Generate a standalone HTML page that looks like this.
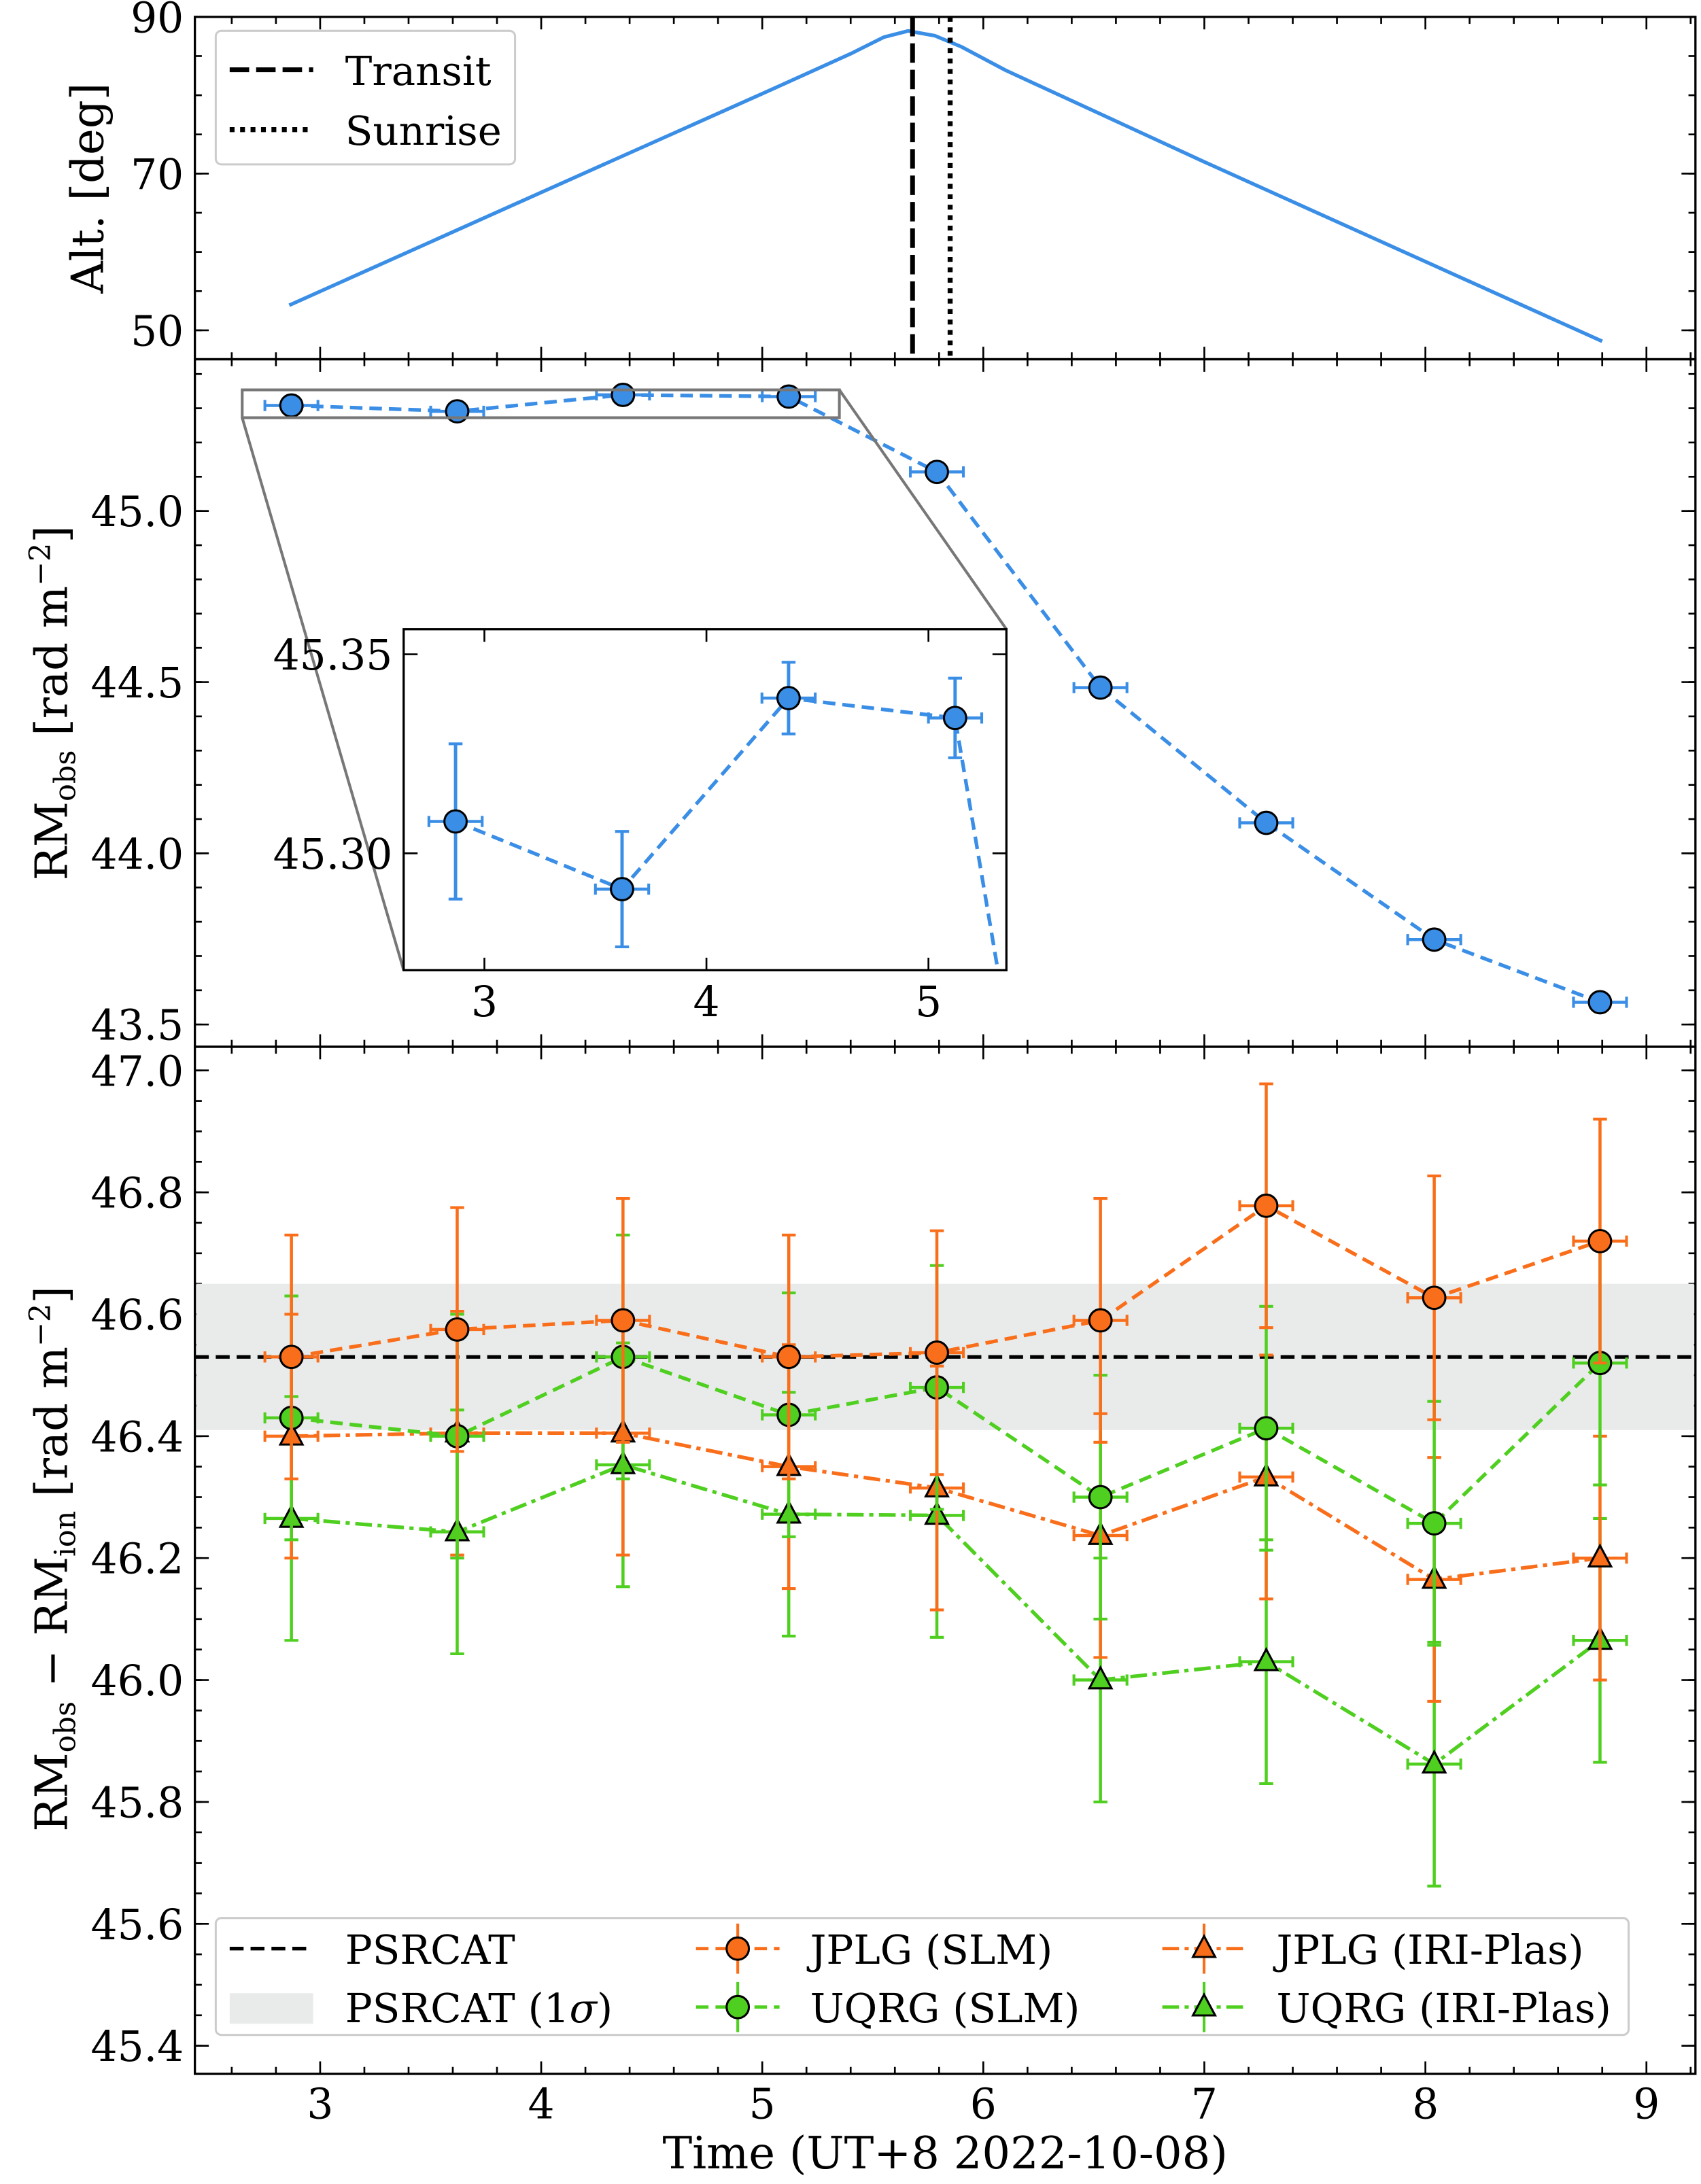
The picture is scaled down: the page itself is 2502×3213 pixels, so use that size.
<!DOCTYPE html>
<html><head><meta charset="utf-8">
<style>
html,body{margin:0;padding:0;background:#fff;width:2502px;height:3213px;overflow:hidden}
svg{display:block}
text{font-family:"DejaVu Serif","Liberation Serif",serif;fill:#000}
</style></head>
<body>
<svg id="fig" width="2502" height="3213" viewBox="0 0 1222 1569" xmlns="http://www.w3.org/2000/svg"></svg>
<script>
// ---- data ----
const altTimes=[2.86,4.0,5.0,5.4,5.55,5.66,5.78,5.9,6.1,7.0,8.8];
const altValues=[53.2,67.6,80.2,85.3,87.4,88.2,87.6,86.2,83.2,71.5,48.6];
const transitTime=5.68, sunriseTime=5.85;
const obsTimes=[2.87,3.62,4.37,5.12,5.79,6.53,7.28,8.04,8.79];
const rmObs=[45.308,45.291,45.339,45.334,45.114,44.484,44.089,43.748,43.565];
const insetErr=[0.0195,0.0145,0.009,0.01,0.01,0.01,0.01,0.01,0.01];
const jplgSLM=[46.53,46.575,46.59,46.53,46.537,46.59,46.778,46.627,46.72];
const uqrgSLM=[46.43,46.40,46.53,46.435,46.48,46.30,46.413,46.257,46.52];
const jplgIRI=[46.40,46.405,46.405,46.35,46.315,46.237,46.333,46.165,46.20];
const uqrgIRI=[46.265,46.243,46.353,46.272,46.27,46.0,46.03,45.862,46.065];
const corrErr=[0.2,0.2,0.2,0.2,0.2,0.2,0.2,0.2,0.2];
const xErr=0.12;
const psrcat=46.53, psrcatSig=0.12;
const xTicks=[3,4,5,6,7,8,9];
const altTicks=[50,70,90];
const obsTicks=[43.5,44.0,44.5,45.0];
const corrTicks=[45.4,45.6,45.8,46.0,46.2,46.4,46.6,46.8,47.0];
const insetTicks=[45.30,45.35];
const insetXTicks=[3,4,5];

const NS="http://www.w3.org/2000/svg";
const svg=document.getElementById('fig');
function el(tag,attrs,parent,name){const e=document.createElementNS(NS,tag);for(const k in attrs)e.setAttribute(k,attrs[k]);


(parent||svg).appendChild(e);return e;}
function txt(s,x,y,opts,parent,name){const t=el('text',Object.assign({x:x,y:y,'font-size':30},opts||{}),parent,name);t.innerHTML=s;return t;}

const L=140,R=1218;
const X=t=>230+(t-3)*158.8;
const BLUE='#3a8ee6',OR='#f96e1a',GR='#4fcf1f';

function frame(top,bot,yf,yticks,fmt,minorStep,ymin,ymax,name){
  const g=el('g',{},svg,name);
  el('rect',{x:L,y:top,width:R-L,height:bot-top,fill:'none',stroke:'#000','stroke-width':1.6},g,name+'-frame');
  for(let t=2.6;t<=9.21;t+=0.2){const x=X(t);if(x<L||x>R)continue;
    const maj=Math.abs(t-Math.round(t))<1e-6;const len=maj?9:5;
    el('line',{x1:x,y1:bot,x2:x,y2:bot-len,stroke:'#000','stroke-width':1.3},g,'x-tick');
    el('line',{x1:x,y1:top,x2:x,y2:top+len,stroke:'#000','stroke-width':1.3},g,'x-tick-top');}
  for(let v=Math.ceil(ymin/minorStep)*minorStep;v<=ymax;v+=minorStep){const y=yf(v);
    el('line',{x1:L,y1:y,x2:L+5,y2:y,stroke:'#000','stroke-width':1.3},g,'y-minor-tick');
    el('line',{x1:R,y1:y,x2:R-5,y2:y,stroke:'#000','stroke-width':1.3},g,'y-minor-tick-right');}
  yticks.forEach(v=>{const y=yf(v);
    el('line',{x1:L,y1:y,x2:L+10,y2:y,stroke:'#000','stroke-width':1.3},g,'y-tick');
    el('line',{x1:R,y1:y,x2:R-10,y2:y,stroke:'#000','stroke-width':1.3},g,'y-tick-right');
    txt(fmt(v),L-8,y+11,{'text-anchor':'end'},g,'y-tick-label');});
  return g;
}
function pl(xs,ys,fx,fy){return xs.map((t,i)=>fx(t).toFixed(1)+','+fy(ys[i]).toFixed(1)).join(' ');}

// ---- panel 1 ----
const Y1=v=>12+(90-v)*5.63;
frame(12,258,Y1,altTicks,v=>v,5,46.3,90,'altitude-panel');
el('polyline',{points:pl(altTimes,altValues,X,Y1),fill:'none',stroke:BLUE,'stroke-width':2.6,'stroke-linejoin':'round'},svg,'altitude-line');
el('line',{x1:X(transitTime),y1:12,x2:X(transitTime),y2:258,stroke:'#000','stroke-width':3.4,'stroke-dasharray':'14,5'},svg,'transit-line');
el('line',{x1:X(sunriseTime),y1:12,x2:X(sunriseTime),y2:258,stroke:'#000','stroke-width':3.6,'stroke-dasharray':'3.5,4'},svg,'sunrise-line');
const lg1=el('g',{},svg,'altitude-legend');
el('rect',{x:155,y:22,width:215,height:96,rx:4,fill:'#fff',stroke:'#ccc','stroke-width':1.5},lg1,'legend-box');
el('line',{x1:165,y1:50,x2:225,y2:50,stroke:'#000','stroke-width':3.4,'stroke-dasharray':'14,5'},lg1,'legend-transit-line');
txt('Transit',248,61,{'font-size':29},lg1,'legend-transit-label');
el('line',{x1:165,y1:93,x2:225,y2:93,stroke:'#000','stroke-width':3.6,'stroke-dasharray':'3.5,4'},lg1,'legend-sunrise-line');
txt('Sunrise',248,104,{'font-size':29},lg1,'legend-sunrise-label');
txt('Alt. [deg]',0,0,{transform:'translate(74,135) rotate(-90)','text-anchor':'middle','font-size':32},svg,'altitude-y-title');

// ---- panel 2 ----
const Y2=v=>367+(45-v)*246;
frame(258,752,Y2,obsTicks,v=>v.toFixed(1),0.1,43.44,45.44,'rm-obs-panel');
el('polyline',{points:pl(obsTimes,rmObs,X,Y2),fill:'none',stroke:BLUE,'stroke-width':2.6,'stroke-dasharray':'9,5'},svg,'rm-obs-line');
obsTimes.forEach((t,i)=>{const x=X(t),y=Y2(rmObs[i]);
  el('line',{x1:X(t-xErr),y1:y,x2:X(t+xErr),y2:y,stroke:BLUE,'stroke-width':2.2},svg,'rm-obs-xerr');
  [t-xErr,t+xErr].forEach(c=>el('line',{x1:X(c),y1:y-4,x2:X(c),y2:y+4,stroke:BLUE,'stroke-width':2},svg,'rm-obs-xcap'));
  el('circle',{cx:x,cy:y,r:8,fill:BLUE,stroke:'#000','stroke-width':1.5},svg,'rm-obs-point');});
el('rect',{x:174,y:280,width:429,height:20,fill:'none',stroke:'#777','stroke-width':2},svg,'zoom-box');
el('line',{x1:174,y1:300,x2:290,y2:697,stroke:'#777','stroke-width':2},svg,'zoom-connector-left');
el('line',{x1:603,y1:280,x2:723,y2:452,stroke:'#777','stroke-width':2},svg,'zoom-connector-right');
// inset
const IX=t=>348+(t-3)*159.5, IY=v=>470+(45.35-v)*2860;
const ig=el('g',{},svg,'inset');
el('rect',{x:290,y:452,width:433,height:245,fill:'#fff',stroke:'#000','stroke-width':1.6},ig,'inset-frame');
const clip=el('clipPath',{id:'ic'},ig,'inset-clip');el('rect',{x:290,y:452,width:433,height:245},clip,'inset-clip-rect');
const ic=el('g',{'clip-path':'url(#ic)'},ig,'inset-data');
el('polyline',{points:pl(obsTimes,rmObs,IX,IY),fill:'none',stroke:BLUE,'stroke-width':2.6,'stroke-dasharray':'9,5'},ic,'inset-line');
obsTimes.forEach((t,i)=>{const x=IX(t),y=IY(rmObs[i]);
  el('line',{x1:x,y1:IY(rmObs[i]-insetErr[i]),x2:x,y2:IY(rmObs[i]+insetErr[i]),stroke:BLUE,'stroke-width':2.4},ic,'inset-yerr');
  [rmObs[i]-insetErr[i],rmObs[i]+insetErr[i]].forEach(v=>el('line',{x1:x-5,y1:IY(v),x2:x+5,y2:IY(v),stroke:BLUE,'stroke-width':2},ic,'inset-ycap'));
  el('line',{x1:IX(t-xErr),y1:y,x2:IX(t+xErr),y2:y,stroke:BLUE,'stroke-width':2.2},ic,'inset-xerr');
  [t-xErr,t+xErr].forEach(c=>el('line',{x1:IX(c),y1:y-4,x2:IX(c),y2:y+4,stroke:BLUE,'stroke-width':2},ic,'inset-xcap'));
  el('circle',{cx:x,cy:y,r:8,fill:BLUE,stroke:'#000','stroke-width':1.5},ic,'inset-point');});
insetXTicks.forEach(t=>{const x=IX(t);el('line',{x1:x,y1:697,x2:x,y2:688,stroke:'#000','stroke-width':1.3},ig,'inset-x-tick');
  el('line',{x1:x,y1:452,x2:x,y2:461,stroke:'#000','stroke-width':1.3},ig,'inset-x-tick-top');
  txt(t,x,730,{'text-anchor':'middle'},ig,'inset-x-label');});
insetTicks.forEach(v=>{const y=IY(v);el('line',{x1:290,y1:y,x2:300,y2:y,stroke:'#000','stroke-width':1.3},ig,'inset-y-tick');
  el('line',{x1:723,y1:y,x2:713,y2:y,stroke:'#000','stroke-width':1.3},ig,'inset-y-tick-right');
  txt(v.toFixed(2),282,y+11,{'text-anchor':'end'},ig,'inset-y-label');});
txt('RM<tspan font-size="21" dy="6">obs</tspan><tspan dy="-6"> [rad m</tspan><tspan font-size="21" dy="-12">−2</tspan><tspan dy="12">]</tspan>',0,0,{transform:'translate(48,505) rotate(-90)','text-anchor':'middle','font-size':32},svg,'rm-obs-y-title');

// ---- panel 3 ----
const Y3=v=>769+(47-v)*438;
frame(752,1490,Y3,corrTicks,v=>v.toFixed(1),0.05,45.36,47.03,'rm-corrected-panel');
el('rect',{x:L+1,y:Y3(psrcat+psrcatSig),width:R-L-2,height:Y3(psrcat-psrcatSig)-Y3(psrcat+psrcatSig),fill:'#e9ebeb'},svg,'psrcat-band');
el('line',{x1:L,y1:Y3(psrcat),x2:R,y2:Y3(psrcat),stroke:'#000','stroke-width':2.6,'stroke-dasharray':'10,5'},svg,'psrcat-line');
function series(vals,col,dash,marker,name){
  const g=el('g',{},svg,name);
  obsTimes.forEach((t,i)=>{const x=X(t),v=vals[i],e=corrErr[i];
    el('line',{x1:x,y1:Y3(v-e),x2:x,y2:Y3(v+e),stroke:col,'stroke-width':2.2},g,name+'-yerr');
    [v-e,v+e].forEach(u=>el('line',{x1:x-5,y1:Y3(u),x2:x+5,y2:Y3(u),stroke:col,'stroke-width':2},g,name+'-ycap'));
    el('line',{x1:X(t-xErr),y1:Y3(v),x2:X(t+xErr),y2:Y3(v),stroke:col,'stroke-width':2.2},g,name+'-xerr');
    [t-xErr,t+xErr].forEach(c=>el('line',{x1:X(c),y1:Y3(v)-4,x2:X(c),y2:Y3(v)+4,stroke:col,'stroke-width':2},g,name+'-xcap'));});
  el('polyline',{points:pl(obsTimes,vals,X,Y3),fill:'none',stroke:col,'stroke-width':2.6,'stroke-dasharray':dash},g,name+'-line');
  obsTimes.forEach((t,i)=>drawMarker(g,X(t),Y3(vals[i]),col,marker,name+'-point'));
}
function drawMarker(g,x,y,col,m,name){
  if(m==='o')el('circle',{cx:x,cy:y,r:8,fill:col,stroke:'#000','stroke-width':1.5},g,name);
  else el('polygon',{points:`${x},${y-9} ${x-8},${y+6} ${x+8},${y+6}`,fill:col,stroke:'#000','stroke-width':1.5},g,name);
}
series(uqrgIRI,GR,'12,4,3,4','^','uqrg-iri');
series(jplgIRI,OR,'12,4,3,4','^','jplg-iri');
series(uqrgSLM,GR,'9,5','o','uqrg-slm');
series(jplgSLM,OR,'9,5','o','jplg-slm');
// legend
const lg=el('g',{},svg,'corrected-legend');
el('rect',{x:155,y:1378,width:1015,height:84,rx:4,fill:'#fff',stroke:'#ccc','stroke-width':1.5},lg,'legend-box');
el('line',{x1:165,y1:1400,x2:225,y2:1400,stroke:'#000','stroke-width':2.6,'stroke-dasharray':'10,5'},lg,'legend-psrcat-line');
txt('PSRCAT',248,1411,{'font-size':29},lg,'legend-psrcat-label');
el('rect',{x:165,y:1432,width:60,height:22,fill:'#e9ebeb'},lg,'legend-psrcat-band');
txt('PSRCAT (1<tspan font-style="italic">σ</tspan>)',248,1453,{'font-size':29},lg,'legend-psrcat-sigma-label');
[[500,1400,OR,'o','9,5','JPLG (SLM)'],[500,1442,GR,'o','9,5','UQRG (SLM)'],[835,1400,OR,'^','12,4,3,4','JPLG (IRI-Plas)'],[835,1442,GR,'^','12,4,3,4','UQRG (IRI-Plas)']].forEach(a=>{
  const [x,y,c,m,d,l]=a;
  el('line',{x1:x,y1:y,x2:x+60,y2:y,stroke:c,'stroke-width':2.4,'stroke-dasharray':d},lg,'legend-line');
  el('line',{x1:x+30,y1:y-18,x2:x+30,y2:y+18,stroke:c,'stroke-width':2},lg,'legend-errbar');
  drawMarker(lg,x+30,y,c,m,'legend-marker');
  txt(l,x+82,y+11,{'font-size':29},lg,'legend-label');});
xTicks.forEach(t=>txt(t,X(t),1522,{'text-anchor':'middle'},svg,'x-tick-label'));
txt('Time (UT+8 2022-10-08)',679,1558,{'text-anchor':'middle','font-size':32},svg,'x-axis-title');
txt('RM<tspan font-size="21" dy="6">obs</tspan><tspan dy="-6"> − RM</tspan><tspan font-size="21" dy="6">ion</tspan><tspan dy="-6"> [rad m</tspan><tspan font-size="21" dy="-12">−2</tspan><tspan dy="12">]</tspan>',0,0,{transform:'translate(48,1120) rotate(-90)','text-anchor':'middle','font-size':32},svg,'rm-corrected-y-title');
</script>
</body></html>
